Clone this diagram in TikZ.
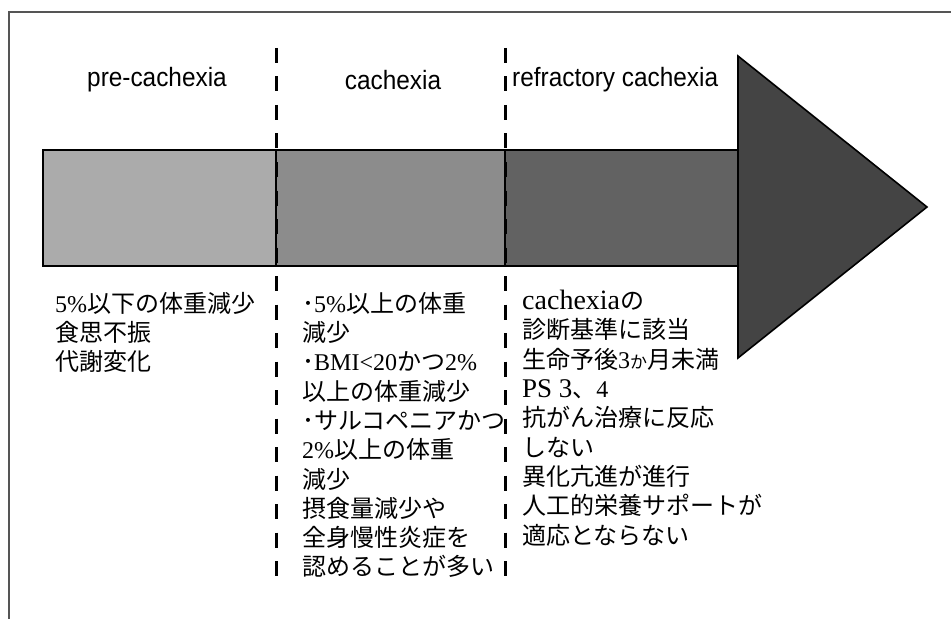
\documentclass[tikz,border=0pt]{standalone}
\usepackage{fontspec}
\setmainfont{Liberation Serif}
\newfontfamily\jpfont{Noto Sans CJK JP}
\newfontfamily\hdfont[FakeStretch=0.92]{Liberation Sans}
\newcommand\jtx[1]{{\jpfont #1}}
\definecolor{segA}{HTML}{ABABAB}
\definecolor{segB}{HTML}{8C8C8C}
\definecolor{segC}{HTML}{626262}
\definecolor{headC}{HTML}{444444}
\definecolor{frameC}{HTML}{555555}
\begin{document}
\begin{tikzpicture}[x=1bp,y=-1bp,
  frameline/.style={draw=frameC,line width=1.4bp},
  barline/.style={draw=black,line width=2bp},
  dashline/.style={draw=black,line width=3bp,dash pattern=on 15bp off 13.5bp},
  hdr/.style={inner sep=0pt,font=\hdfont\fontsize{26.5bp}{29bp}\selectfont},
  body/.style={inner sep=0pt,anchor=north west,align=left,font=\fontsize{24bp}{29.3bp}\selectfont}]
\useasboundingbox (0,0) rectangle (951,619);
% frame
\draw[frameline] (951,12) -- (9,12) -- (9,619);
% bar segments
\fill[segA] (43,150) rectangle (276,266);
\fill[segB] (276,150) rectangle (505,266);
\fill[segC] (505,150) rectangle (738,266);
\filldraw[fill=headC,draw=black,line width=1.6bp,line join=miter] (738,56) -- (927,207) -- (738,358) -- cycle;
\draw[barline] (738,150) -- (43,150) -- (43,266) -- (738,266);
% dashed separators
\draw[dashline] (276,48) -- (276,583);
\draw[dashline] (505,48) -- (505,583);
\draw[barline] (276,150) -- (276,266);
\draw[barline] (505,150) -- (505,266);
% headers
\node[hdr] (h1) at (157,80) {pre-cachexia};
\node[hdr] (h2) at (393,80) {cachexia};
\node[hdr,anchor=west] (h3) at (512,80) {refractory cachexia};
% body texts
\node[body] (c1) at (55,292) {5\%\jtx{以下の体重減少}\\\jtx{食思不振}\\\jtx{代謝変化}};
\node[body] (c2) at (302,292) {\jtx{･}5\%\jtx{以上の体重}\\\jtx{減少}\\\jtx{･}BMI<20\jtx{かつ}2\%\\\jtx{以上の体重減少}\\\jtx{･サルコペニアかつ}\\2\%\jtx{以上の体重}\\\jtx{減少}\\\jtx{摂食量減少や}\\\jtx{全身慢性炎症を}\\\jtx{認めることが多い}};
\node[body] (c3) at (522,290) {{\fontsize{28bp}{29.3bp}\selectfont cachexia}\jtx{の}\\\jtx{診断基準に該当}\\\jtx{生命予後}3{\jpfont\fontsize{17bp}{29.3bp}\selectfont か}\jtx{月未満}\\{\fontsize{27bp}{29.3bp}\selectfont PS 3}\jtx{、}4\\\jtx{抗がん治療に反応}\\\jtx{しない}\\\jtx{異化亢進が進行}\\\jtx{人工的栄養サポートが}\\\jtx{適応とならない}};
\end{tikzpicture}
\end{document}
